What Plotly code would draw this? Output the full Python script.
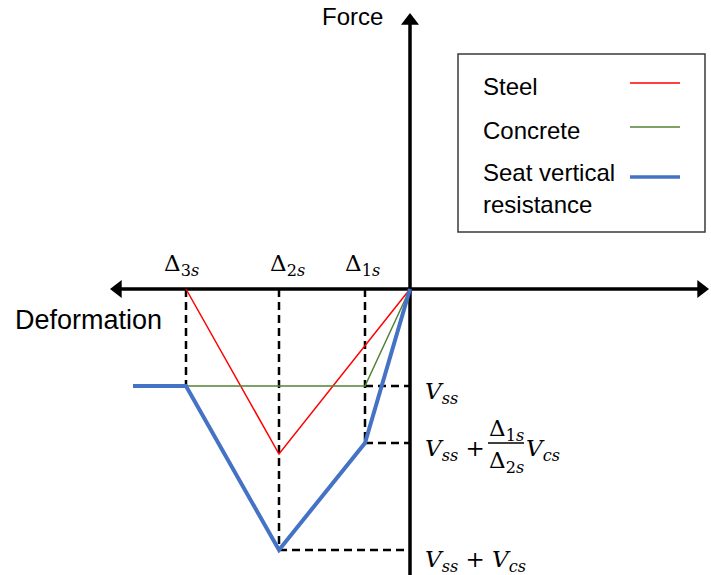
import plotly.graph_objects as go

# ---- data (pixel-scaled schematic units) ----
delta_1s = 45      # deformation at Δ1s
delta_2s = 131     # deformation at Δ2s
delta_3s = 224     # deformation at Δ3s
deform_end = 277   # left end of blue plateau
V_ss = 97          # steel-seat force
V_mid = 154        # Vss + Δ1s/Δ2s Vcs
V_top = 261        # Vss + Vcs
steel_peak = 165   # steel force at Δ2s

steel_x = [0, -delta_2s, -delta_3s]
steel_y = [0, -steel_peak, 0]
concrete_x = [0, -delta_1s, -delta_3s]
concrete_y = [0, -V_ss, -V_ss]
seat_x = [0, -delta_1s, -delta_2s, -delta_3s, -deform_end]
seat_y = [0, -V_mid, -V_top, -V_ss, -V_ss]

RED = "#FF0000"
GREEN = "#548235"
BLUE = "#4472C4"
SANS = "Liberation Sans"
SERIF = "DejaVu Serif"

fig = go.Figure()

# axis lines
fig.add_trace(go.Scatter(x=[-292, 291], y=[0, 0], mode="lines",
                         line=dict(color="black", width=3.5), showlegend=False, hoverinfo="skip"))
fig.add_trace(go.Scatter(x=[0, 0], y=[-286, 268], mode="lines",
                         line=dict(color="black", width=3.5), showlegend=False, hoverinfo="skip"))
# axis arrowheads
fig.add_trace(go.Scatter(x=[-292.2, 291.2, 0], y=[0, 0, 268.2], mode="markers",
                         marker=dict(symbol=["triangle-left", "triangle-right", "triangle-up"],
                                     size=15.6, color="black", line=dict(width=0)),
                         cliponaxis=False, showlegend=False, hoverinfo="skip"))

# dashed guide lines
dash_style = dict(color="black", width=2.5, dash="8px,5px")
guides = [
    ([-delta_3s, -delta_3s], [0, -V_ss]),
    ([-delta_2s, -delta_2s], [0, -V_top]),
    ([-delta_1s, -delta_1s], [0, -V_mid]),
    ([-delta_1s, 0], [-V_ss, -V_ss]),
    ([-delta_1s, 0], [-V_mid, -V_mid]),
    ([-delta_2s, 0], [-V_top, -V_top]),
]
for gx, gy in guides:
    fig.add_trace(go.Scatter(x=gx, y=gy, mode="lines", line=dash_style,
                             showlegend=False, hoverinfo="skip"))

fig.add_trace(go.Scatter(x=steel_x, y=steel_y, mode="lines", name="Steel",
                         line=dict(color=RED, width=1.5), showlegend=False))
fig.add_trace(go.Scatter(x=concrete_x, y=concrete_y, mode="lines", name="Concrete",
                         line=dict(color=GREEN, width=1.5), showlegend=False))
fig.add_trace(go.Scatter(x=seat_x, y=seat_y, mode="lines", name="Seat vertical resistance",
                         line=dict(color=BLUE, width=4), showlegend=False))

annotations = []
# axis titles
annotations.append(dict(xref="x", yref="y", x=-58, y=273, text="Force", showarrow=False,
                        font=dict(family=SANS, size=24, color="black"), xanchor="center", yanchor="middle"))
annotations.append(dict(xref="x", yref="y", x=-322, y=-31, text="Deformation", showarrow=False,
                        font=dict(family=SANS, size=27, color="black"), xanchor="center", yanchor="middle"))

# Δ labels
math_font = dict(family=SERIF, size=23, color="black")
for val, lab, shift in [(delta_3s, "3", -5), (delta_2s, "2", 8), (delta_1s, "1", -3)]:
    annotations.append(dict(xref="x", yref="y", x=-val, y=24, xshift=shift,
                            text=f"Δ<sub>{lab}<i>s</i></sub>", showarrow=False,
                            font=math_font, xanchor="center", yanchor="middle"))

# force labels
annotations.append(dict(xref="x", yref="y", x=13, y=-V_ss, yshift=-7, xanchor="left", yanchor="middle",
                        text="<i>V</i><sub><i>ss</i></sub>", showarrow=False, font=math_font))
annotations.append(dict(xref="x", yref="y", x=13, y=-V_mid, yshift=-7, xanchor="left", yanchor="middle",
                        text="<i>V</i><sub><i>ss</i></sub> +", showarrow=False, font=math_font))
annotations.append(dict(xref="x", yref="y", x=96, y=-V_mid, yshift=13, xanchor="center", yanchor="middle",
                        text="Δ<sub>1<i>s</i></sub>", showarrow=False, font=math_font))
annotations.append(dict(xref="x", yref="y", x=96, y=-V_mid, yshift=-19, xanchor="center", yanchor="middle",
                        text="Δ<sub>2<i>s</i></sub>", showarrow=False, font=math_font))
annotations.append(dict(xref="x", yref="y", x=114, y=-V_mid, yshift=-7, xanchor="left", yanchor="middle",
                        text="<i>V</i><sub><i>cs</i></sub>", showarrow=False, font=math_font))
annotations.append(dict(xref="x", yref="y", x=13, y=-V_top, yshift=-11, xanchor="left", yanchor="middle",
                        text="<i>V</i><sub><i>ss</i></sub> + <i>V</i><sub><i>cs</i></sub>",
                        showarrow=False, font=math_font))

# legend texts
leg_font = dict(family=SANS, size=24, color="black")
for ytxt, t in [(87, "Steel"), (130, "Concrete"), (173, "Seat vertical"), (205, "resistance")]:
    annotations.append(dict(xref="paper", yref="paper", x=481 / 711, y=1 - ytxt / 575, text=t,
                            showarrow=False, xanchor="left", yanchor="middle", font=leg_font))

shapes = [
    # fraction bar
    dict(type="line", xref="x", yref="y", x0=78, x1=114, y0=-V_mid, y1=-V_mid,
         line=dict(color="black", width=1.5)),
    # legend box
    dict(type="rect", xref="paper", yref="paper", x0=458 / 711, x1=705 / 711,
         y0=1 - 232 / 575, y1=1 - 54 / 575, line=dict(color="#3a3a3a", width=1.5),
         fillcolor="white", layer="below"),
]
for ypx, col, w in [(83, RED, 1.5), (127, GREEN, 1.5), (177, BLUE, 3.5)]:
    shapes.append(dict(type="line", xref="paper", yref="paper", x0=630 / 711, x1=680 / 711,
                       y0=1 - ypx / 575, y1=1 - ypx / 575, line=dict(color=col, width=w)))

fig.update_layout(
    width=711, height=575,
    margin=dict(l=0, r=0, t=0, b=0),
    paper_bgcolor="white", plot_bgcolor="white",
    xaxis=dict(range=[-410, 301], visible=False, fixedrange=True),
    yaxis=dict(range=[-286, 289], visible=False, fixedrange=True),
    annotations=annotations,
    shapes=shapes,
    showlegend=False,
)

fig.write_html("out.html", config={"displayModeBar": False},
               post_script="document.body.style.margin='0';document.body.style.overflow='hidden';")
